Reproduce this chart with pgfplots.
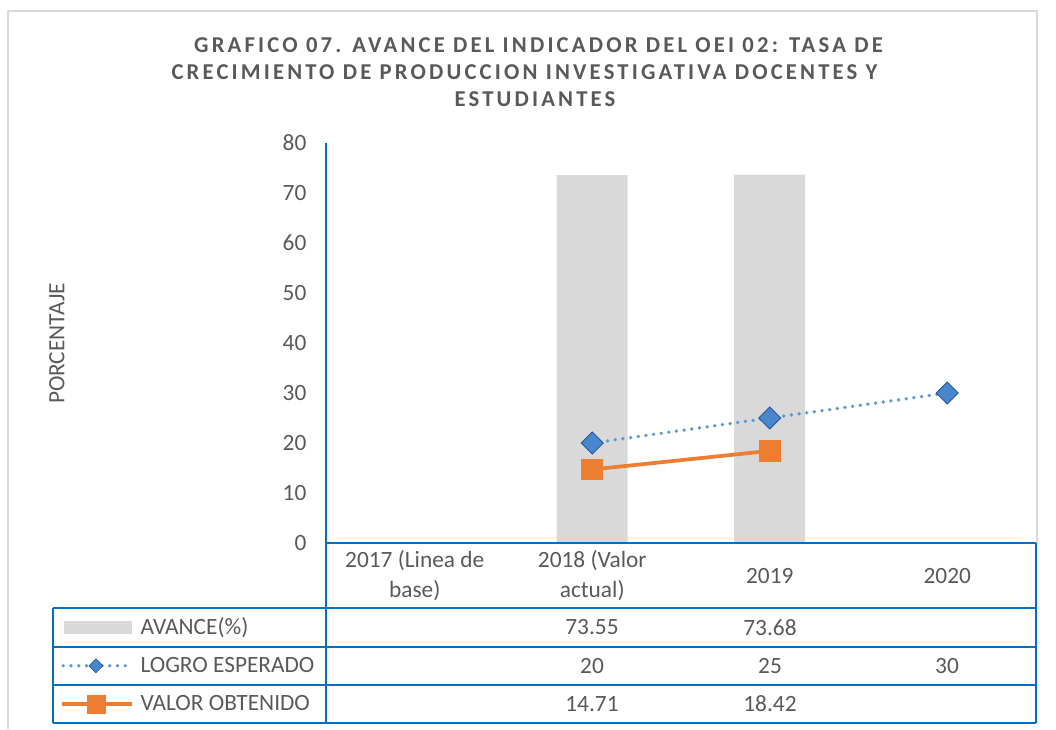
\documentclass[border=0pt]{standalone}
\usepackage{fontspec}
\setmainfont{Carlito}
\newfontfamily\titlefont[LetterSpace=14]{Carlito}
\usepackage{pgfplots}
\pgfplotsset{compat=1.18}
\definecolor{txt}{RGB}{89,89,89}
\definecolor{tbl}{RGB}{0,112,192}
\definecolor{barc}{RGB}{217,217,217}
\definecolor{lblue}{RGB}{91,155,213}
\definecolor{mblue}{RGB}{72,135,205}
\definecolor{dblue}{RGB}{40,85,150}
\definecolor{orng}{RGB}{237,125,49}
\definecolor{frm}{RGB}{217,217,217}
\newcommand{\fs}{\fontsize{17.5}{22.5}\selectfont}
\begin{document}
\begin{tikzpicture}
\begin{axis}[
  at={(0,0)}, anchor=south west,
  scale only axis, width=532.5pt, height=300pt,
  xmin=-0.5, xmax=3.5, ymin=0, ymax=80,
  axis lines=left, axis line style={-, tbl, line width=1.1pt},
  xtick={0,1,2,3},
  xticklabels={{2017 (Linea de\\base)},{2018 (Valor\\actual)},{2019},{2020}},
  xticklabel style={align=center, anchor=center, yshift=-24.75pt, font=\fs, text=txt},
  major tick length=0pt,
  ytick={0,10,...,80},
  yticklabel style={font=\fs, text=txt, xshift=-11.2pt},
  /pgf/number format/assume math mode=true,
  clip=false,
  legend style={at={(-0.3745,-0.1625)}, anchor=north west, draw=none, fill=none,
    inner sep=0pt, outer sep=0pt, row sep=0pt, column sep=5pt,
    nodes={inner sep=0pt, minimum height=28.9pt, anchor=west, font=\fs, text=txt}},
]
\addplot[ybar, bar width=53.25pt, fill=barc, draw=none,
  legend image code/.code={\fill[barc] (1.5pt,-4.9pt) rectangle (52.5pt,4.9pt);}]
  coordinates {(1,73.55) (2,73.68)};
\addlegendentry{AVANCE(\%)}
\addplot[lblue, line width=2.8pt, line cap=round, dash pattern=on 0pt off 5.8pt,
  mark=square*, mark size=5.83pt, mark options={solid, rotate=45, fill=mblue, draw=dblue, line width=0.6pt},
  legend image code/.code={
    \draw[lblue, line width=2.8pt, line cap=round, dash pattern=on 0pt off 5.8pt] (1pt,0pt) -- (52pt,0pt);
    \draw[only marks, mark=square*, mark size=3.7pt, mark options={solid, rotate=45, fill=mblue, draw=dblue, line width=0.5pt}] plot coordinates {(25.5pt,0pt)};}]
  coordinates {(1,20) (2,25) (3,30)};
\addlegendentry{LOGRO ESPERADO}
\addplot[orng, line width=2.8pt, mark=square*, mark size=6.75pt, mark options={solid, fill=orng, draw=none},
  legend image code/.code={
    \draw[orng, line width=2.8pt] (0pt,0pt) -- (52.5pt,0pt);
    \fill[orng] (20.5pt,-5.6pt) rectangle (31.5pt,5.6pt);}]
  coordinates {(1,14.71) (2,18.42)};
\addlegendentry{VALOR OBTENIDO}
\end{axis}
\begin{scope}[x=0.75pt, y=-0.75pt, xshift=-244.5pt, yshift=407.25pt]
  \path (0,0) rectangle (1056,729);
  % outer frame
  \draw[frm, line width=1.5pt] (8,729) -- (8,11.5) -- (1037,11.5) -- (1037,543);
  % table
  \draw[tbl, line width=1.1pt] (326,543) -- (1036,543);
  \draw[tbl, line width=1.1pt] (53,608) -- (1036,608);
  \draw[tbl, line width=1.1pt] (53,647) -- (1036,647);
  \draw[tbl, line width=1.1pt] (53,685) -- (1036,685);
  \draw[tbl, line width=1.1pt] (53,723) -- (1036,723);
  \draw[tbl, line width=1.1pt] (53,608) -- (53,723);
  \draw[tbl, line width=1.1pt] (326,543) -- (326,723);
  \draw[tbl, line width=1.1pt] (1036,543) -- (1036,723);
  % table values
  \node[font=\fs, text=txt] at (592,627.5) {73.55};
  \node[font=\fs, text=txt] at (770,627.5) {73.68};
  \node[font=\fs, text=txt] at (592,666) {20};
  \node[font=\fs, text=txt] at (770,666) {25};
  \node[font=\fs, text=txt] at (947,666) {30};
  \node[font=\fs, text=txt] at (592,704) {14.71};
  \node[font=\fs, text=txt] at (770,704) {18.42};
  % y label
  \node[font=\fs, text=txt, rotate=90] at (57,343.5) {PORCENTAJE};
  % title
  \node[font=\titlefont\bfseries\fontsize{17}{20}\selectfont, text=txt] at (538.5,45) {GRAFICO 07. AVANCE DEL INDICADOR DEL OEI 02: TASA DE};
  \node[font=\titlefont\bfseries\fontsize{17}{20}\selectfont, text=txt] at (524.5,72) {CRECIMIENTO DE PRODUCCION INVESTIGATIVA DOCENTES Y};
  \node[font=\titlefont\bfseries\fontsize{17}{20}\selectfont, text=txt] at (535,99) {ESTUDIANTES};
\end{scope}
\end{tikzpicture}
\end{document}
